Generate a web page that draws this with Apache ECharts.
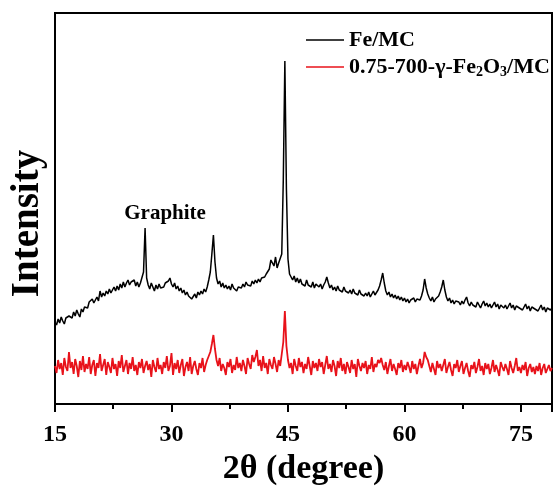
<!DOCTYPE html>
<html>
<head>
<meta charset="utf-8">
<style>
  html, body { margin: 0; padding: 0; background: #fff; }
  #chart { width: 556px; height: 487px; }
</style>
<script src="https://cdn.jsdelivr.net/npm/echarts@6/dist/echarts.min.js"></script>
</head>
<body>
<div id="chart"></div>
<script>
// XRD patterns, 2θ from 15° to 79° in 0.2° steps (a.u.)
const angleStart = 15.0;
const angleStep = 0.2;

const feMC = [
  82, 79, 85, 81, 87, 83, 80, 86, 84, 88,
  89, 86, 92, 88, 94, 90, 87, 95, 92, 97,
  99, 96, 102, 100, 105, 101, 104, 107, 103, 113,
  107, 111, 108, 113, 110, 115, 111, 114, 117, 113,
  118, 114, 120, 116, 122, 117, 121, 124, 119, 122,
  120, 124, 118, 122, 117, 121, 119, 132, 176, 126,
  119, 115, 121, 117, 113, 119, 115, 120, 116, 118,
  117, 121, 119, 123, 126, 120, 117, 121, 115, 118,
  113, 116, 111, 114, 109, 112, 108, 110, 105, 107,
  110, 106, 112, 109, 113, 110, 115, 112, 117, 124,
  132, 150, 169, 142, 126, 120, 123, 117, 121, 116,
  119, 115, 118, 114, 120, 116, 118, 113, 117, 119,
  116, 120, 117, 122, 119, 121, 118, 123, 120, 124,
  121, 125, 122, 126, 124, 127, 130, 128, 135, 144,
  146, 138, 147, 136, 141, 139, 150, 225, 343, 215,
  145, 130, 127, 124, 128, 122, 126, 121, 125, 120,
  122, 118, 124, 119, 121, 117, 122, 116, 120, 118,
  117, 120, 115, 119, 122, 127, 121, 116, 119, 114,
  117, 113, 118, 114, 116, 112, 117, 113, 115, 111,
  114, 110, 115, 111, 113, 109, 114, 110, 112, 108,
  111, 108, 112, 107, 110, 113, 109, 111, 114, 118,
  124, 131, 121, 113, 109, 112, 107, 110, 106, 109,
  105, 108, 104, 107, 103, 106, 102, 105, 101, 104,
  103, 106, 102, 105, 107, 104, 108, 114, 125, 116,
  110, 106, 103, 107, 102, 105, 104, 108, 112, 117,
  124, 114, 107, 103, 106, 101, 104, 100, 103, 105,
  102, 99, 103, 100, 104, 107, 101, 98, 102, 99,
  101, 97, 102, 99, 96, 100, 103, 98, 101, 97,
  100, 96, 99, 102, 97, 100, 95, 99, 101, 96,
  99, 95, 98, 101, 96, 99, 94, 98, 100, 96,
  98, 94, 97, 100, 95, 98, 93, 97, 99, 95,
  97, 93, 96, 99, 94, 97, 92, 96, 98, 94,
  96
];

const fe2o3MC = [
  38, 31, 44, 35, 41, 29, 46, 37, 33, 52,
  36, 42, 30, 45, 38, 27, 43, 34, 48, 32,
  40, 35, 47, 30, 39, 44, 28, 41, 36, 50,
  33, 39, 45, 29, 42, 37, 31, 46, 35, 40,
  28, 43, 36, 49, 32, 38, 44, 30, 41, 35,
  47, 33, 39, 29, 42, 36, 45, 31, 38, 43,
  34, 40, 27, 44, 37, 32, 46, 35, 39, 30,
  42, 36, 48, 33, 38, 51, 29, 41, 35, 44,
  31, 39, 45, 28, 37, 42, 33, 47, 30, 38,
  43, 35, 29, 41, 36, 46, 32, 39, 44, 48,
  52, 60, 69, 55, 44, 38, 46, 33, 40, 36,
  29, 42, 37, 45, 31, 39, 34, 47, 36, 41,
  33, 44, 38, 30, 46, 40, 35, 49, 42, 47,
  54, 38, 44, 33, 48, 36, 41, 30, 45, 39,
  35, 47, 40, 32, 44, 38, 50, 62, 93, 58,
  44, 36, 41, 30, 45, 38, 33, 46, 37, 42,
  31, 40, 35, 47, 38, 29, 43, 36, 41, 33,
  45, 37, 42, 30, 39, 48, 35, 40, 32, 44,
  38, 28, 43, 36, 46, 33, 40, 30, 42, 37,
  31, 44, 35, 40, 27, 45, 38, 33, 41, 36,
  43, 30, 39, 35, 47, 32, 40, 37, 44, 41,
  46, 39, 34, 42, 30, 38, 45, 33, 40, 35,
  29, 41, 36, 44, 32, 39, 34, 42, 37, 31,
  43, 35, 40, 30, 38, 45, 36, 41, 52, 47,
  44, 38, 32, 41, 35, 29, 43, 36, 40, 33,
  39, 45, 31, 37, 42, 34, 28, 40, 36, 44,
  32, 38, 43, 30, 36, 41, 33, 27, 39, 35,
  42, 31, 37, 45, 33, 38, 29, 41, 35, 40,
  30, 36, 44, 32, 39, 34, 28, 42, 37, 33,
  40, 35, 29, 43, 36, 31, 38, 46, 33, 37,
  31, 39, 34, 42, 28, 36, 40, 32, 37, 30,
  38, 33, 41, 29, 36, 40, 31, 35, 39, 33,
  36
];

const xTicks = [15, 30, 45, 60, 75];
const seriesNames = ['Fe/MC', '0.75-700-γ-Fe2O3/MC'];
const graphitePeak = [26.6, 176];

const serif = "'Times New Roman', 'Liberation Serif', serif";

function toPairs(values) {
  return values.map((v, i) => [+(angleStart + i * angleStep).toFixed(1), v]);
}

const chart = echarts.init(document.getElementById('chart'), null, { renderer: 'canvas' });

chart.setOption({
  animation: false,
  backgroundColor: '#fff',
  grid: {
    left: 55, right: 4, top: 13, bottom: 83,
    containLabel: false,
    outerBoundsMode: 'none',
    show: true, borderColor: '#000', borderWidth: 2, backgroundColor: 'transparent'
  },
  legend: {
    orient: 'vertical',
    left: 306, top: 29,
    padding: 0,
    icon: 'rect',
    itemWidth: 38, itemHeight: 1.5, itemGap: 4,
    data: seriesNames,
    formatter: function (name) {
      if (name === seriesNames[1]) {
        return '{n|0.75-700-γ-Fe}{s|2}{n|O}{s|3}{n|/MC}';
      }
      return '{n|' + name + '}';
    },
    textStyle: {
      color: '#000',
      rich: {
        n: { fontFamily: serif, fontWeight: 'bold', fontSize: 22, lineHeight: 22, color: '#000' },
        s: { fontFamily: serif, fontWeight: 'bold', fontSize: 14, lineHeight: 22, color: '#000', padding: [10, 0, 0, 0] }
      }
    }
  },
  xAxis: {
    type: 'value',
    min: 15, max: 79, interval: 15,
    axisLine: { show: true, lineStyle: { color: '#000', width: 2 } },
    axisTick: { show: true, inside: false, length: 8, lineStyle: { color: '#000', width: 2 } },
    minorTick: { show: true, splitNumber: 2, length: 5, lineStyle: { color: '#000', width: 2 } },
    splitLine: { show: false },
    axisLabel: {
      margin: 19, color: '#000', fontFamily: serif, fontWeight: 'bold', fontSize: 24,
      customValues: xTicks
    },
    name: '2θ (degree)',
    nameLocation: 'middle',
    nameGap: 38,
    nameTextStyle: { color: '#000', fontFamily: serif, fontWeight: 'bold', fontSize: 34 }
  },
  yAxis: {
    type: 'value',
    min: 0, max: 391,
    axisLine: { show: true, lineStyle: { color: '#000', width: 2 } },
    axisTick: { show: false },
    axisLabel: { show: false },
    splitLine: { show: false },
    name: 'Intensity',
    nameLocation: 'middle',
    nameRotate: 90,
    nameGap: 8,
    nameTextStyle: {
      color: '#000', fontFamily: serif, fontWeight: 'bold', fontSize: 39,
      padding: [0, 30, 0, 0]
    }
  },
  series: [
    {
      name: seriesNames[0],
      type: 'line',
      data: toPairs(feMC),
      symbol: 'none',
      lineStyle: { color: '#000', width: 1.5 },
      itemStyle: { color: '#000' },
      markPoint: {
        symbol: 'circle', symbolSize: 0,
        data: [{ coord: graphitePeak, value: 'Graphite' }],
        label: {
          show: true, formatter: 'Graphite', offset: [20, -14],
          color: '#000', fontFamily: serif, fontWeight: 'bold', fontSize: 21
        }
      }
    },
    {
      name: seriesNames[1],
      type: 'line',
      data: toPairs(fe2o3MC),
      symbol: 'none',
      lineStyle: { color: '#e8121a', width: 1.8 },
      itemStyle: { color: '#e8121a' }
    }
  ]
});
</script>
</body>
</html>
